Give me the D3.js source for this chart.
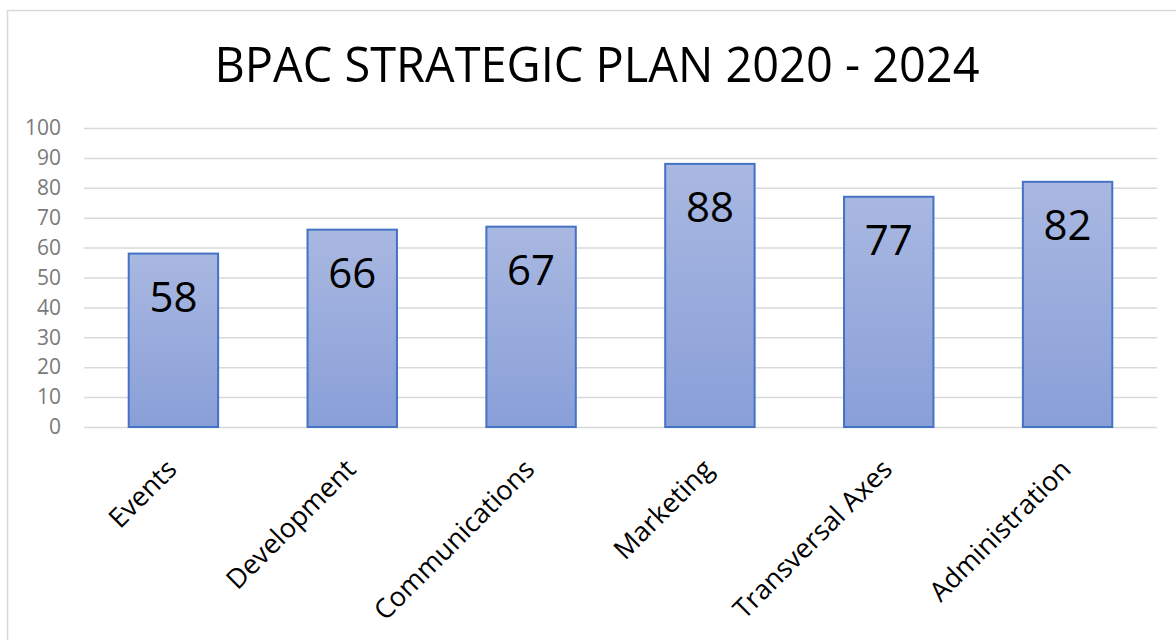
<!DOCTYPE html>
<html>
<head>
<meta charset="utf-8">
<script src="https://cdn.jsdelivr.net/npm/d3@7"></script>
<style>
  body { margin: 0; background: #fff; }
  svg text { font-family: "Open Sans", "Noto Sans", sans-serif; }
</style>
</head>
<body>
<div id="chart"></div>
<script>
var categories = ["Events", "Development", "Communications", "Marketing", "Transversal Axes", "Administration"];
var scores = [58, 66, 67, 88, 77, 82];
var yTicks = [0, 10, 20, 30, 40, 50, 60, 70, 80, 90, 100];
var title = "BPAC STRATEGIC PLAN 2020 - 2024";

var w = 1176, h = 640;
var svg = d3.select("#chart").append("svg").attr("width", w).attr("height", h),
    margin = {top: 128, right: 19, bottom: 213, left: 84},
    width = w - margin.left - margin.right,
    height = h - margin.top - margin.bottom;

// outer frame
svg.append("rect")
    .attr("x", 7.5).attr("y", 10.5)
    .attr("width", 1200).attr("height", 700)
    .attr("fill", "#fff")
    .attr("stroke", "#d9d9d9")
    .attr("stroke-width", 1.5);

var defs = svg.append("defs");
var grad = defs.append("linearGradient")
    .attr("id", "barFill")
    .attr("x1", 0).attr("y1", 0).attr("x2", 0).attr("y2", 1);
grad.append("stop").attr("offset", "0%").attr("stop-color", "#a9b8e1");
grad.append("stop").attr("offset", "100%").attr("stop-color", "#899fd8");

svg.append("text")
    .attr("x", 597)
    .attr("y", 82)
    .attr("text-anchor", "middle")
    .attr("font-size", 50)
    .attr("textLength", 765)
    .attr("lengthAdjust", "spacingAndGlyphs")
    .attr("fill", "#000")
    .text(title);

var g = svg.append("g").attr("transform", "translate(" + margin.left + "," + margin.top + ")");

var x = d3.scaleBand()
    .domain(categories)
    .range([0, width])
    .paddingInner(0.5)
    .paddingOuter(0.25);

var y = d3.scaleLinear()
    .domain([0, 100])
    .range([height, 0]);

// gridlines + y labels
g.append("g")
    .call(d3.axisLeft(y).tickValues(yTicks).tickSize(-width).tickPadding(23))
    .call(function(a) { a.select(".domain").remove(); })
    .call(function(a) {
      a.selectAll(".tick line").attr("stroke", "#d9d9d9").attr("stroke-width", 1.5);
      a.selectAll(".tick text")
          .attr("fill", "#7a7a7a")
          .attr("font-size", 21)
          .style("font-family", "'Open Sans', sans-serif");
    });

var bars = g.selectAll(".bar")
    .data(categories)
  .enter().append("g")
    .attr("class", "bar");

bars.append("rect")
    .attr("x", function(d) { return x(d); })
    .attr("y", function(d, i) { return y(scores[i]); })
    .attr("width", x.bandwidth())
    .attr("height", function(d, i) { return height - y(scores[i]); })
    .attr("fill", "url(#barFill)")
    .attr("stroke", "#4472c4")
    .attr("stroke-width", 2);

bars.append("text")
    .attr("x", function(d) { return x(d) + x.bandwidth() / 2; })
    .attr("y", function(d, i) { return y(scores[i]) + 58; })
    .attr("text-anchor", "middle")
    .attr("font-size", 42)
    .attr("fill", "#000")
    .text(function(d, i) { return scores[i]; });

// category labels, rotated
g.append("g")
    .attr("transform", "translate(0," + height + ")")
    .call(d3.axisBottom(x).tickSize(0).tickPadding(0))
    .call(function(a) { a.select(".domain").remove(); })
    .selectAll(".tick text")
      .attr("font-size", 27)
      .attr("fill", "#000")
      .style("font-family", "'Open Sans', sans-serif")
      .attr("text-anchor", "end")
      .attr("dy", 0)
      .attr("y", 0)
      .attr("transform", "translate(5,44) rotate(-45)");
</script>
</body>
</html>
